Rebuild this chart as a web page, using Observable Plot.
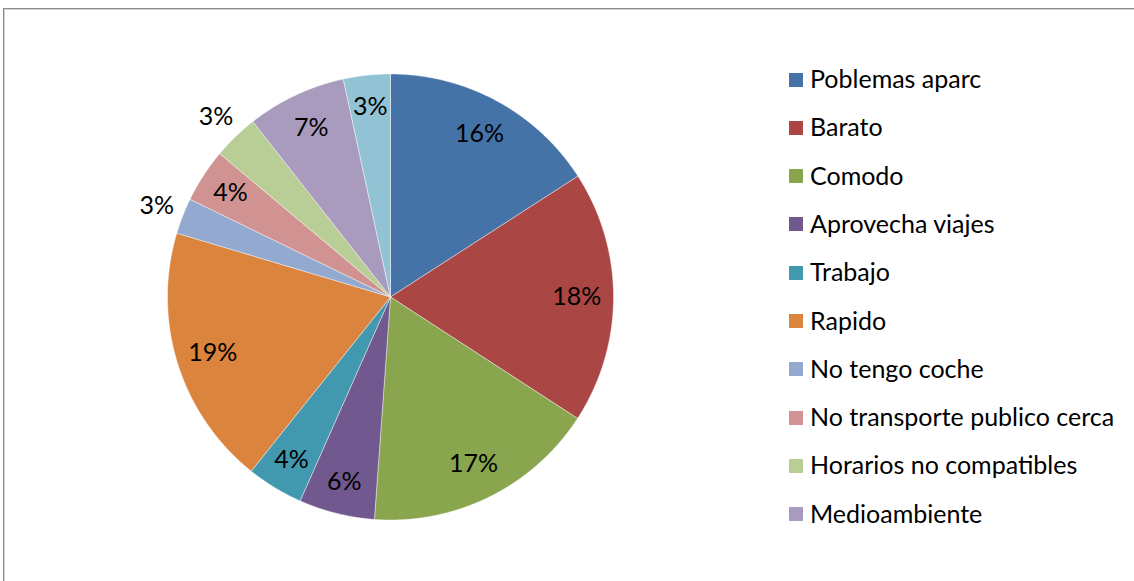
<!DOCTYPE html>
<html>
<head>
<meta charset="utf-8">
<script src="https://cdn.jsdelivr.net/npm/d3@7"></script>
<script src="https://cdn.jsdelivr.net/npm/@observablehq/plot@0.6"></script>
<style>
  html, body { margin: 0; padding: 0; background: #fff; }
  #wrap { position: relative; width: 1134px; height: 581px; overflow: hidden; }
  #frame { position: absolute; left: 3px; top: 8px; width: 1300px; height: 700px;
           border-top: 1px solid #8a8a8a; border-left: 1px solid #8a8a8a;
           box-shadow: inset 1px 1px 0 #d4d4d4; }
  #chart { position: absolute; left: 0; top: 0; }
  #legend { position: absolute; left: 0; top: 0; }
  .item { position: absolute; display: flex; align-items: center; white-space: nowrap; color: #000; }
  .sw { width: 14px; height: 14px; margin-right: 7px; flex: none; }
  .tx { position: relative; top: -1.5px; }
</style>
</head>
<body>
<div id="wrap">
  <div id="frame"></div>
  <div id="chart"></div>
  <div id="legend"></div>
</div>
<script>
// ---- data ----
const categories = [
  "Poblemas aparc", "Barato", "Comodo", "Aprovecha viajes", "Trabajo", "Rapido",
  "No tengo coche", "No transporte publico cerca", "Horarios no compatibles",
  "Medioambiente", "Otros"
];
const values = [15.9, 18.3, 17.0, 5.5, 4.1, 18.9, 2.6, 3.9, 3.3, 7.2, 3.4];
const colors = [
  "#4572A7", "#AA4643", "#89A54E", "#71588F", "#4198AF", "#DB843D",
  "#93A9CF", "#D19392", "#B9CD96", "#A99BBD", "#92C3D5"
];
const legendCount = 10; // the reference legend shows only the first ten entries

// ---- layout ----
const W = 1134, H = 581;
const cx = 390, cy = 296.5, R = 223;
const outsideLabels = new Set(["No tengo coche", "Horarios no compatibles"]);
const FONT = "Lato, 'Open Sans', 'DejaVu Sans', sans-serif";

// fit font size so that the legend text width matches the reference
const ctx = document.createElement("canvas").getContext("2d");
ctx.font = `26.5px Lato`;
const measured = ctx.measureText("Poblemas aparc").width;
const fontSize = Math.round(26.5 * 171 / measured * 10) / 10;

const data = categories.map((name, i) => ({name, value: values[i]}));
const arcs = d3.pie().sort(null).value(d => d.value)(data);

const pts = arcs.flatMap(s => {
  const n = Math.max(4, Math.ceil((s.endAngle - s.startAngle) / 0.005));
  const out = [{key: s.data.name, x: 0, y: 0}];
  for (let i = 0; i <= n; i++) {
    const a = s.startAngle + (s.endAngle - s.startAngle) * i / n;
    out.push({key: s.data.name, x: Math.sin(a), y: Math.cos(a)});
  }
  out.push({key: s.data.name, x: 0, y: 0});
  return out;
});

const labels = arcs.map(s => {
  const a = (s.startAngle + s.endAngle) / 2;
  const small = (s.endAngle - s.startAngle) < 0.4;
  const rr = outsideLabels.has(s.data.name) ? 1.125 : (small ? 0.855 : 0.835);
  return {x: Math.sin(a) * rr, y: Math.cos(a) * rr, text: Math.round(s.data.value) + "%"};
});

const plot = Plot.plot({
  width: W, height: H,
  margin: 0,
  style: {background: "transparent", fontFamily: FONT},
  x: {domain: [-1, 1], range: [cx - R, cx + R], axis: null},
  y: {domain: [-1, 1], range: [cy + R, cy - R], axis: null},
  color: {domain: categories, range: colors},
  marks: [
    Plot.line(pts, {x: "x", y: "y", z: "key", fill: "key", stroke: "#ffffff", strokeWidth: 0.6, strokeOpacity: 0.7}),
    Plot.text(labels, {x: "x", y: "y", text: "text", fill: "#000", fontSize: fontSize, fontFamily: FONT})
  ]
});
document.getElementById("chart").appendChild(plot);

// ---- legend ----
const legend = document.getElementById("legend");
const rowTop = 79.5, rowStep = 48.3, lx = 789, lh = 30;
categories.slice(0, legendCount).forEach((name, i) => {
  const it = document.createElement("div");
  it.className = "item";
  it.style.left = lx + "px";
  it.style.top = (rowTop + i * rowStep - lh / 2) + "px";
  it.style.height = lh + "px";
  it.style.fontFamily = FONT;
  it.style.fontSize = fontSize + "px";
  const sw = document.createElement("span");
  sw.className = "sw";
  sw.style.background = colors[i];
  const tx = document.createElement("span");
  tx.className = "tx";
  tx.textContent = name;
  it.appendChild(sw); it.appendChild(tx);
  legend.appendChild(it);
});
</script>
</body>
</html>
